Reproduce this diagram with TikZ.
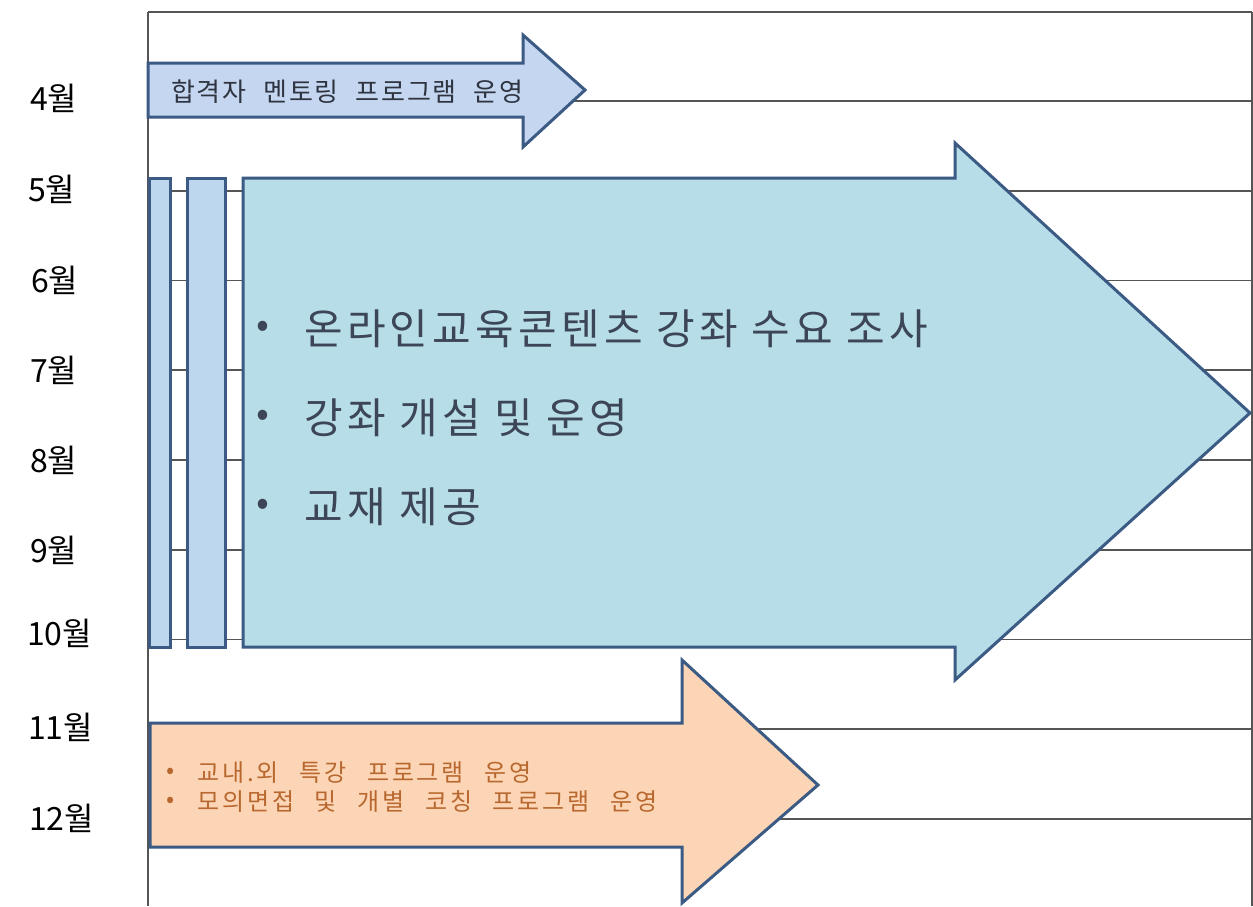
\documentclass[tikz,border=0pt]{standalone}
\usepackage{fontspec}
\setmainfont{Noto Sans CJK KR}
\newfontfamily\kr{Noto Sans CJK KR}
\newfontfamily\krbig[LetterSpace=10]{Noto Sans CJK KR}
\newfontfamily\krtop[LetterSpace=7,WordSpace=2.2]{Noto Sans CJK KR}
\newfontfamily\krsp[LetterSpace=12,WordSpace=2.5]{Noto Sans CJK KR}
\definecolor{topfill}{HTML}{C5D6F0}
\definecolor{barfill}{HTML}{BDD7EE}
\definecolor{bigfill}{HTML}{B7DEE8}
\definecolor{orfill}{HTML}{FBD5B5}
\definecolor{bord}{HTML}{3B5A84}
\definecolor{bigtext}{HTML}{3D4659}
\definecolor{ortext}{HTML}{B8682F}
\definecolor{toptext}{HTML}{2E3440}
\definecolor{grid}{HTML}{555555}
\tikzset{
  gridline/.style={draw=grid, line width=1.6},
  shapebox/.style={draw=bord, line width=3, line join=miter},
  month/.style={anchor=west, inner sep=0, font=\kr\fontsize{32}{34}\selectfont, text=black},
  bigitem/.style={anchor=west, inner sep=0, font=\krbig\fontsize{42}{44}\selectfont, text=bigtext},
  bulletitem/.style={anchor=west, inner sep=0, font=\kr\fontsize{38}{40}\selectfont, text=bigtext},
  topitem/.style={anchor=west, inner sep=0, font=\krtop\fontsize{26}{28}\selectfont, text=toptext},
  smallitem/.style={anchor=west, inner sep=0, font=\krsp\fontsize{24}{26}\selectfont, text=ortext},
}
\begin{document}
\begin{tikzpicture}[x=1pt,y=-1pt]
\useasboundingbox (0,0) rectangle (1253,906);
\fill[white] (0,0) rectangle (1253,906);
% grid
\draw[gridline] (148,12) -- (1252,12);
\draw[gridline] (148,12) -- (148,906);
\draw[gridline] (1252,12) -- (1252,906);
\foreach \yy in {101,190.75,280.5,370.25,460,549.75,639.5,729.25,819}
  \draw[gridline] (148,\yy) -- (1252,\yy);
% month labels
\node[month] (m4) at (30,98) {4월};
\node[month] (m5) at (28,189) {5월};
\node[month] (m6) at (31,280) {6월};
\node[month] (m7) at (30,370) {7월};
\node[month] (m8) at (30,460) {8월};
\node[month] (m9) at (30,550) {9월};
\node[month] (m10) at (27,633) {10월};
\node[month] (m11) at (28,727) {11월};
\node[month] (m12) at (29,818) {12월};
% top arrow
\draw[shapebox, fill=topfill] (148,63) -- (523,63) -- (523,35) -- (585,90) -- (523,147) -- (523,117) -- (148,117) -- cycle;
\node[topitem] (t1) at (171,92) {합격자 멘토링 프로그램 운영};
% thin bars
\draw[shapebox, fill=barfill] (149,178) rectangle (170,647);
\draw[shapebox, fill=barfill] (187,178) rectangle (225,647);
% big arrow
\draw[shapebox, fill=bigfill] (243,178) -- (955,178) -- (955,143) -- (1250,413) -- (955,680) -- (955,647) -- (243,647) -- cycle;
\node[bulletitem] (b1) at (256,329) {•};
\node[bigitem] (i1) at (304,329) {온라인교육콘텐츠 강좌 수요 조사};
\node[bulletitem] (b2) at (256,418) {•};
\node[bigitem] (i2) at (304,418) {강좌 개설 및 운영};
\node[bulletitem] (b3) at (256,507) {•};
\node[bigitem] (i3) at (304,507) {교재 제공};
% bottom arrow
\draw[shapebox, fill=orfill] (150,723) -- (682,723) -- (682,660) -- (818,785) -- (682,903) -- (682,847) -- (150,847) -- cycle;
\node[smallitem] (b4) at (166,773) {•};
\node[smallitem] (o1) at (197,773) {교내.외 특강 프로그램 운영};
\node[smallitem] (b5) at (166,802) {•};
\node[smallitem] (o2) at (197,802) {모의면접 및 개별 코칭 프로그램 운영};
\end{tikzpicture}
\end{document}
